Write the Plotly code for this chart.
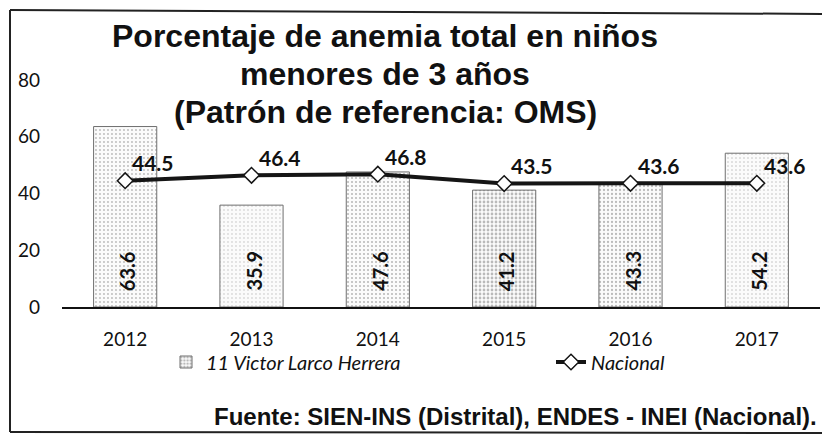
import plotly.graph_objects as go

# datos
years = ["2012", "2013", "2014", "2015", "2016", "2017"]
distrito = [63.6, 35.9, 47.6, 41.2, 43.3, 54.2]
nacional = [44.5, 46.4, 46.8, 43.5, 43.6, 43.6]
y_ticks = [0, 20, 40, 60, 80]

titulo = ["Porcentaje de anemia total en niños", "menores de 3 años", "(Patrón de referencia: OMS)"]
fuente = "Fuente: SIEN-INS (Distrital), ENDES - INEI (Nacional)."
nombre_distrito = "11 Victor Larco Herrera"
nombre_nacional = "Nacional"

W, H = 830, 437
OFF = 8  # margen del body de la pagina
# area de trazado en la captura: x 62-820, y 80-307
L, T = 62 - OFF, 80 - OFF
R, B = W - (820 - OFF), H - (307 - OFF)
CALIBRI = "Lato, Carlito, sans-serif"
ARIAL = "Liberation Sans, Arial, sans-serif"

# densidad del punteado de cada barra (escaneo)
solidez = [0.18, 0.10, 0.22, 0.38, 0.25, 0.12]


def px_x(p):
    return (p - OFF - L) / (W - L - R)


def px_y(p):
    return (H - B - (p - OFF)) / (H - T - B)


fig = go.Figure()
fig.add_trace(go.Bar(
    x=years, y=distrito, name=nombre_distrito, width=0.5, legend="legend",
    marker=dict(
        color="#f7f7f7",
        line=dict(color="#6f6f6f", width=1),
        pattern=dict(shape=".", fgcolor="#7a7a7a", bgcolor="#fbfbfb", size=4, solidity=solidez),
    ),
))
fig.add_trace(go.Scatter(
    x=years, y=nacional, name=nombre_nacional, mode="lines+markers", legend="legend2",
    line=dict(color="#151515", width=4),
    marker=dict(symbol="diamond", size=12, color="white", line=dict(color="#151515", width=1.5)),
))

annotations = []
# etiquetas de las barras (verticales, en la base); x = indice de categoria
for i, v in enumerate(distrito):
    annotations.append(dict(
        x=i, y=0, text=f"<b>{v}</b>", showarrow=False, textangle=-90,
        yanchor="bottom", yshift=14, xshift=2,
        font=dict(family=CALIBRI, size=20, color="#111111"),
    ))
# etiquetas de la serie nacional
for i, v in enumerate(nacional):
    annotations.append(dict(
        x=i, y=v, text=f"<b>{v}</b>", showarrow=False,
        xanchor="center", yanchor="middle", xshift=28, yshift=18,
        font=dict(family=CALIBRI, size=21, color="#111111"),
    ))
# titulo en tres lineas
for texto, py in zip(titulo, [36, 74, 112]):
    annotations.append(dict(
        x=px_x(385), y=px_y(py), xref="paper", yref="paper", text=f"<b>{texto}</b>",
        showarrow=False, xanchor="center", yanchor="middle",
        font=dict(family=ARIAL, size=32, color="#111111"),
    ))
annotations.append(dict(
    x=px_x(819), y=px_y(416), xref="paper", yref="paper", text=f"<b>{fuente}</b>",
    showarrow=False, xanchor="right", yanchor="middle",
    font=dict(family=ARIAL, size=24, color="#111111"),
))

# marco del grafico (izquierda, arriba, abajo)
marco = dict(type="line", xref="paper", yref="paper", line=dict(color="#222222", width=2))
shapes = [
    dict(marco, x0=px_x(10), y0=px_y(10), x1=px_x(10), y1=px_y(432)),
    dict(marco, x0=px_x(10), y0=px_y(10), x1=px_x(840), y1=px_y(14)),
    dict(marco, x0=px_x(10), y0=px_y(432), x1=px_x(840), y1=px_y(433)),
]

leyenda = dict(
    orientation="h", xanchor="left", yanchor="middle", y=px_y(362),
    font=dict(family=CALIBRI, size=20, color="#111111", style="italic"),
    bgcolor="rgba(0,0,0,0)", borderwidth=0,
)

fig.update_layout(
    width=W, height=H,
    margin=dict(l=L, r=R, t=T, b=B, autoexpand=False),
    plot_bgcolor="white", paper_bgcolor="white",
    showlegend=True,
    legend=dict(leyenda, x=px_x(166)),
    legend2=dict(leyenda, x=px_x(551)),
    annotations=annotations,
    shapes=shapes,
)
fig.update_xaxes(
    type="category", showgrid=False, showline=True, linecolor="#111111", linewidth=2,
    ticks="", ticklabelstandoff=14,
    tickfont=dict(family=CALIBRI, size=19, color="#111111"),
)
fig.update_yaxes(
    range=[0, 80], tickvals=y_ticks, showgrid=False, showline=False, zeroline=False,
    ticks="", ticklabelstandoff=21,
    tickfont=dict(family=CALIBRI, size=19, color="#111111"),
)

fig.write_html("out.html")
